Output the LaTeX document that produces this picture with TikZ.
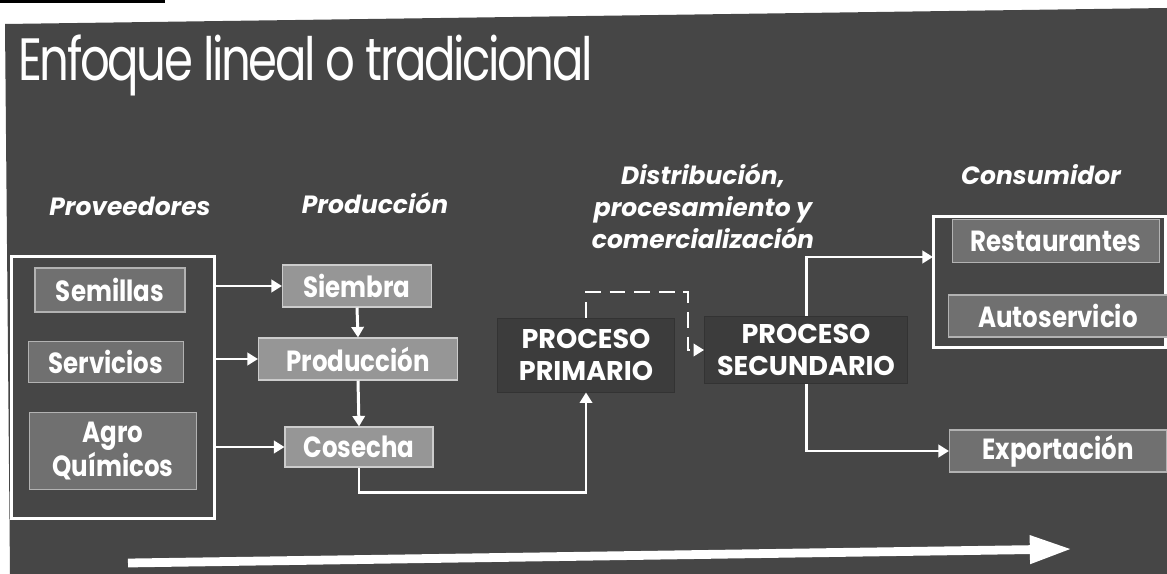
\documentclass[tikz,border=0pt]{standalone}
\usepackage{fontspec}
\setmainfont{Poppins}
\newfontfamily\titulofont[FakeStretch=0.78,LetterSpace=-4]{Poppins}
\newfontfamily\cajafont[FakeStretch=0.84]{Poppins}
\usetikzlibrary{arrows.meta,positioning}
\definecolor{fondo}{RGB}{70,70,70}
\definecolor{cajagris}{RGB}{112,112,112}
\definecolor{cajaclara}{RGB}{150,150,150}
\definecolor{procgris}{RGB}{60,60,60}
\tikzset{
  caja/.style={fill=cajagris, draw=gray!60, line width=0.6pt, text=white,
    font=\cajafont\bfseries\fontsize{16.6}{19}\selectfont, align=center, inner sep=0pt},
  cajaprod/.style={caja, fill=cajaclara, draw=gray!40},
  proceso/.style={fill=procgris, draw=black!80, line width=0.5pt, text=white,
    font=\bfseries\fontsize{15.4}{18}\selectfont, align=center, inner sep=0pt},
  marco/.style={draw=white, line width=1.7pt, inner sep=0pt},
  encabezado/.style={text=white, font=\bfseries\itshape\fontsize{14.2}{18.2}\selectfont, align=center},
  flecha/.style={draw=white, line width=1.7pt, -{Triangle[length=6pt,width=7pt]}}
}
\begin{document}
\begin{tikzpicture}[x=0.02cm,y=-0.02cm]
  \useasboundingbox (0,0) rectangle (1167,574);
  % fondo de la diapositiva escaneada
  \fill[white] (0,0) rectangle (1167,574);
  \fill[fondo] (5,24) -- (1167,8) -- (1167,574) -- (10,574) -- cycle;
  \fill[black] (0,0) rectangle (165,3);
  \node[text=white, font=\titulofont\fontsize{34}{38}\selectfont, anchor=base west, inner sep=0pt]
    (titulo) at (18,81) {Enfoque lineal o tradicional};

  % encabezados
  \node[encabezado] (hprov) at (130,206) {Proveedores};
  \node[encabezado] (hprod) at (375,203) {Producción};
  \node[encabezado] (hdist) at (703,206) {Distribución,\\procesamiento y\\comercialización};
  \node[encabezado] (hcons) at (1041,175) {Consumidor};

  % marcos
  \node[marco, minimum width=4.08cm, minimum height=5.26cm] (prov) at (113,387.5) {};
  \node[marco, minimum width=4.66cm, minimum height=2.64cm] (cons) at (1049.5,282) {};

  % proveedores
  \node[caja, minimum width=3.0cm, minimum height=0.88cm] (sem) at (110,290) {Semillas};
  \node[caja, minimum width=3.1cm, minimum height=0.82cm] (ser) at (106,362) {Servicios};
  \node[caja, minimum width=3.34cm, minimum height=1.54cm] (agro) at (113,451) {Agro\\Químicos};

  % produccion
  \node[cajaprod, minimum width=2.98cm, minimum height=0.84cm] (sie) at (357,286) {Siembra};
  \node[cajaprod, minimum width=3.98cm, minimum height=0.84cm] (prod) at (358,359) {Producción};
  \node[cajaprod, minimum width=2.96cm, minimum height=0.8cm] (cos) at (359,447) {Cosecha};

  % procesos
  \node[proceso, minimum width=3.54cm, minimum height=1.48cm] (pri) at (586,355) {PROCESO\\PRIMARIO};
  \node[proceso, minimum width=4.06cm, minimum height=1.34cm] (sec) at (806,350) {PROCESO\\SECUNDARIO};

  % consumidor
  \node[caja, minimum width=4.14cm, minimum height=0.86cm] (res) at (1056,241) {Restaurantes};
  \node[caja, minimum width=4.38cm, minimum height=0.84cm] (aut) at (1058,316) {Autoservicio};
  \node[caja, minimum width=4.34cm, minimum height=0.84cm] (exp) at (1058,451) {Exportación};

  \coordinate (dobla) at (688,292);
  \coordinate (entra) at (933,257);
  \coordinate (ini) at (128,563);
  \coordinate (fin) at (1072,549);

  % conectores
  \draw[flecha] (prov.east |- sie.west) -- (sie.west);
  \draw[flecha] (prov.east |- prod.west) -- (prod.west);
  \draw[flecha] (prov.east |- cos.west) -- (cos.west);
  \draw[flecha] (sie.south) -- (prod.north);
  \draw[flecha] (prod.south) -- (cos.north);
  \draw[flecha] (cos.south) -- ++(0,25) -| (pri.south);
  \draw[flecha, dashed, dash pattern=on 9pt off 5pt] (pri.north) |- (dobla) |- (sec.west);
  \draw[flecha] (sec.north) |- (entra);
  \draw[flecha] (sec.south) |- (exp.west);
  \draw[white, line width=5pt, -{Triangle[length=24pt,width=15pt]}] (ini) -- (fin);
\end{tikzpicture}
\end{document}
